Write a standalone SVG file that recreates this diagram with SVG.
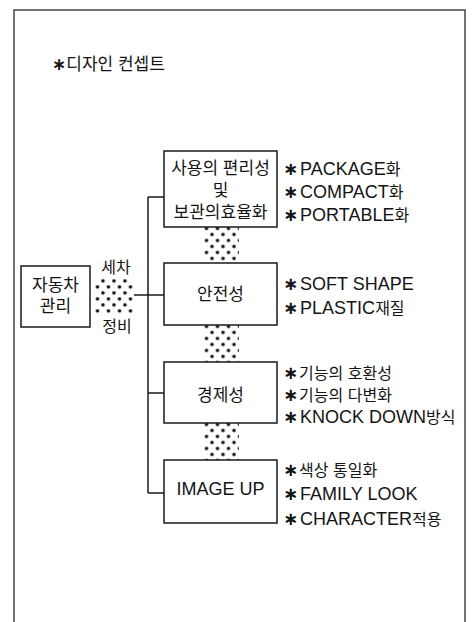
<svg xmlns="http://www.w3.org/2000/svg" xmlns:xlink="http://www.w3.org/1999/xlink" width="476" height="622" viewBox="0 0 476 622">
<style>
text{font-family:"Liberation Sans","Noto Sans CJK KR","DejaVu Sans",sans-serif;fill:#141414}
.box{fill:#fff;stroke:#1a1a1a;stroke-width:1.5}
.frame{fill:none;stroke:#444;stroke-width:1.5}
.wire{fill:none;stroke:#1a1a1a;stroke-width:1.5}
.lbl{font-size:17px;text-anchor:middle}
.big{font-size:18px;text-anchor:middle}
.item{font-size:18px}
.ko{font-size:16px}
.st{font-weight:bold}
.side{font-size:16px;text-anchor:middle}
</style>
<defs>
<pattern id="dots" patternUnits="userSpaceOnUse" width="11" height="12">
<circle cx="1.8" cy="1.8" r="1.8" fill="#111"/>
<circle cx="7.3" cy="7.8" r="1.8" fill="#111"/>
</pattern>
<pattern id="dotsC" href="#dots" xlink:href="#dots" x="101.2" y="279.2"/>
<pattern id="dotsS1" href="#dots" xlink:href="#dots" x="204.7" y="226.7"/>
<pattern id="dotsS2" href="#dots" xlink:href="#dots" x="204.7" y="324.7"/>
<pattern id="dotsS3" href="#dots" xlink:href="#dots" x="204.7" y="422.7"/>
</defs>
<rect width="476" height="622" fill="#fff"/>
<path class="frame" d="M14,622 V10 H465 V622"/>
<text id="title" x="52" y="70" style="font-size:17px"><tspan class="st">∗</tspan>디자인 컨셉트</text>

<g id="connectors">
<path class="wire" d="M148,197 V493"/>
<path class="wire" d="M148,197 H164"/>
<path class="wire" d="M134,295 H164"/>
<path class="wire" d="M148,393 H164"/>
<path class="wire" d="M148,493 H164"/>
<rect x="94" y="278" width="40" height="37" fill="url(#dotsC)"/>
<rect x="203" y="227" width="36" height="36" fill="url(#dotsS1)"/>
<rect x="203" y="325" width="36" height="37" fill="url(#dotsS2)"/>
<rect x="203" y="423" width="36" height="37" fill="url(#dotsS3)"/>
<text class="side" x="116" y="273">세차</text>
<text class="side" x="117" y="332">정비</text>
</g>

<g id="node-car">
<rect class="box" x="21" y="266" width="69" height="61"/>
<text class="lbl" x="55.5" y="291">자동차</text>
<text class="lbl" x="55.5" y="312">관리</text>
</g>

<g id="node-convenience">
<rect class="box" x="164" y="151" width="113" height="76"/>
<text class="lbl" x="220.5" y="174">사용의 편리성</text>
<text class="lbl" x="220.5" y="196">및</text>
<text class="lbl" x="220.5" y="218">보관의효율화</text>
</g>
<g id="items-convenience">
<text class="item" x="283" y="175"><tspan class="st">∗</tspan><tspan dx="2">PACKAGE</tspan><tspan class="ko">화</tspan></text>
<text class="item" x="283" y="198"><tspan class="st">∗</tspan><tspan dx="2">COMPACT</tspan><tspan class="ko">화</tspan></text>
<text class="item" x="283" y="221"><tspan class="st">∗</tspan><tspan dx="2">PORTABLE</tspan><tspan class="ko">화</tspan></text>
</g>

<g id="node-safety">
<rect class="box" x="164" y="263" width="113" height="62"/>
<text class="lbl" x="220.5" y="300">안전성</text>
</g>
<g id="items-safety">
<text class="item" x="283" y="290"><tspan class="st">∗</tspan><tspan dx="2">SOFT SHAPE</tspan></text>
<text class="item" x="283" y="314"><tspan class="st">∗</tspan><tspan dx="2">PLASTIC</tspan><tspan class="ko">재질</tspan></text>
</g>

<g id="node-economy">
<rect class="box" x="164" y="362" width="113" height="61"/>
<text class="lbl" x="220.5" y="401">경제성</text>
</g>
<g id="items-economy">
<text class="item" x="283" y="379"><tspan class="st">∗</tspan><tspan class="ko" dx="1">기능의 호환성</tspan></text>
<text class="item" x="283" y="401"><tspan class="st">∗</tspan><tspan class="ko" dx="1">기능의 다변화</tspan></text>
<text class="item" x="283" y="423"><tspan class="st">∗</tspan><tspan dx="2">KNOCK DOWN</tspan><tspan class="ko">방식</tspan></text>
</g>

<g id="node-image">
<rect class="box" x="164" y="460" width="113" height="63"/>
<text class="big" x="220.5" y="495">IMAGE UP</text>
</g>
<g id="items-image">
<text class="item" x="283" y="476"><tspan class="st">∗</tspan><tspan class="ko" dx="1">색상 통일화</tspan></text>
<text class="item" x="283" y="500"><tspan class="st">∗</tspan><tspan dx="2">FAMILY LOOK</tspan></text>
<text class="item" x="283" y="525"><tspan class="st">∗</tspan><tspan dx="2">CHARACTER</tspan><tspan class="ko">적용</tspan></text>
</g>
</svg>
